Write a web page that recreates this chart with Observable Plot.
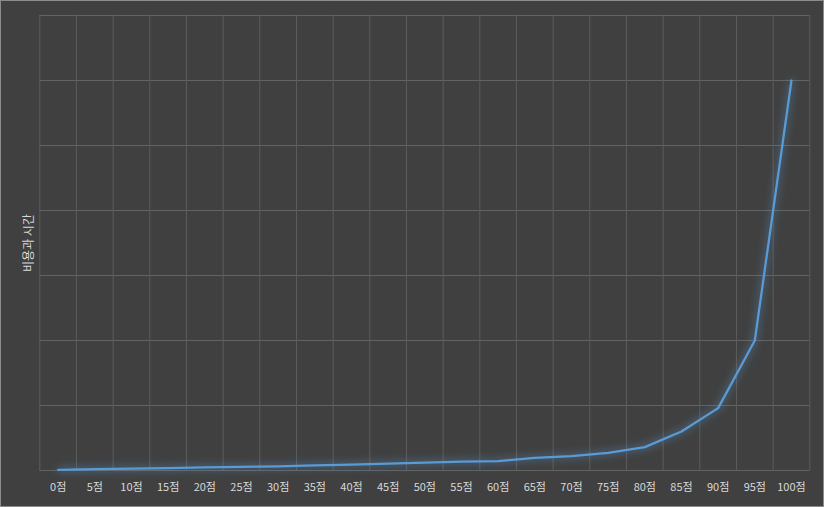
<!DOCTYPE html>
<html>
<head>
<meta charset="utf-8">
<script src="https://cdn.jsdelivr.net/npm/d3@7"></script>
<script src="https://cdn.jsdelivr.net/npm/@observablehq/plot@0.6"></script>
<style>
  html, body { margin: 0; padding: 0; background: #404040; }
  #chart svg { display: block; background: #404040; outline: 1px solid #8c8c8c; outline-offset: -1px; }
  #chart g[aria-label="line"] { filter: drop-shadow(0 0 4px rgba(91,155,213,0.9)); }
</style>
</head>
<body>
<div id="chart"></div>
<script>
const categories = ["0점","5점","10점","15점","20점","25점","30점","35점","40점","45점","50점","55점","60점","65점","70점","75점","80점","85점","90점","95점","100점"];
const values = [1, 2, 2.9, 3.8, 4.8, 5.7, 6.5, 7.8, 9.2, 10.7, 12.1, 13.5, 14.5, 19.5, 22, 27, 36, 60, 96, 200, 600];
const yTicks = [0, 100, 200, 300, 400, 500, 600, 700];
const yLabel = "비용과 시간";

const data = categories.map((c, i) => ({i, c, v: values[i]}));
const edges = d3.range(categories.length + 1).map(i => i - 0.5);

const font = "'Noto Sans CJK KR', 'Noto Sans', sans-serif";

const chart = Plot.plot({
  width: 824,
  height: 507,
  marginLeft: 39.3,
  marginRight: 14.7,
  marginTop: 15,
  marginBottom: 37,
  style: {background: "#404040", color: "#d9d9d9", fontFamily: font, fontSize: "11px"},
  x: {type: "linear", domain: [-0.5, categories.length - 0.5]},
  y: {domain: [0, 700]},
  marks: [
    Plot.ruleY(yTicks, {stroke: "#636363", strokeWidth: 1}),
    Plot.ruleX(edges, {stroke: "#5c5c5c", strokeWidth: 1}),
    Plot.axisX(d3.range(categories.length), {
      tickFormat: i => categories[i], tickSize: 0, tickPadding: 13,
      fill: "#d9d9d9", fontSize: 11, label: null
    }),
    Plot.axisY({ticks: [], label: null}),
    Plot.text([yLabel], {frameAnchor: "left", rotate: -90, dx: -11, fill: "#d9d9d9", fontSize: 12, textAnchor: "middle"}),
    Plot.line(data, {x: "i", y: "v", stroke: "#5b9bd5", strokeWidth: 2.25, curve: "linear"})
  ]
});
document.getElementById("chart").appendChild(chart);
</script>
</body>
</html>
